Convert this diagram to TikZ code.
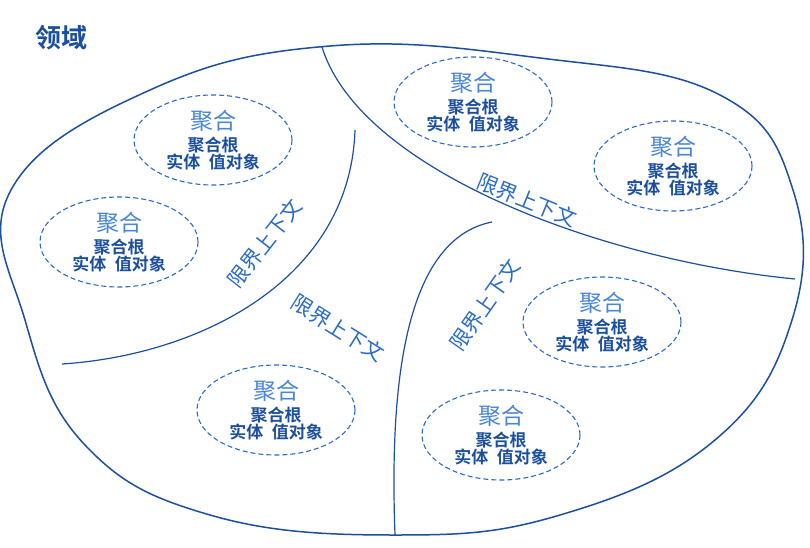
\documentclass[tikz,border=0pt]{standalone}
\usepackage{fontspec}
\setmainfont{Noto Sans CJK SC}
\newfontfamily\cjkb{Noto Sans CJK SC Bold}
\definecolor{dk}{HTML}{1B4F9E}
\definecolor{md}{HTML}{2A6BC8}
\definecolor{lt}{HTML}{4A86D8}
\usetikzlibrary{shapes.geometric}
\tikzset{agg/.style={draw=md,dash pattern=on 5pt off 3pt,line width=1.1pt,ellipse,minimum width=158pt,minimum height=90pt,align=center,inner sep=0pt},
bline/.style={draw=dk,line width=1.2pt},
bc/.style={text=md,font=\fontsize{21}{21}\selectfont}}
\newcommand{\aggtext}{{\color{lt}\fontsize{23}{26}\selectfont 聚合}\\[4pt]{\color{dk}\cjkb\fontsize{17}{24}\selectfont 聚合根}\\[0pt]{\color{dk}\cjkb\fontsize{17}{24}\selectfont 实体\enspace 值对象}}
\begin{document}
\begin{tikzpicture}[x=1pt,y=-1pt]
\useasboundingbox (0,0) rectangle (810,548);
\node[anchor=west,text=dk,font=\cjkb\fontsize{26}{26}\selectfont] (t) at (32,38) {领域};
\draw[bline,line width=1.5pt] plot[smooth cycle,tension=0.7] coordinates{(330,46) (540,58) (720,95) (793,190) (792,320) (715,440) (560,515) (395,535) (210,515) (85,445) (25,320) (11,190) (150,90)};
\coordinate (a1) at (322,47); \coordinate (a2) at (795,279);
\draw[bline] (a1) .. controls (360,170) and (600,260) .. (a2);
\coordinate (b1) at (355,130); \coordinate (b2) at (62,364);
\draw[bline] (b1) .. controls (350,280) and (200,355) .. (b2);
\coordinate (c1) at (492,222); \coordinate (c2) at (395,535);
\draw[bline] (c1) .. controls (400,240) and (390,400) .. (c2);
\node[bc,rotate=-22] (l1) at (527,200) {限界上下文};
\node[bc,rotate=52] (l2) at (265,243) {限界上下文};
\node[bc,rotate=-32] (l3) at (338,328) {限界上下文};
\node[bc,rotate=55] (l4) at (485,305) {限界上下文};
\node[agg] (g1) at (213,140) {\aggtext};
\node[agg] (g2) at (119,242) {\aggtext};
\node[agg] (g3) at (473,102) {\aggtext};
\node[agg] (g4) at (673,166) {\aggtext};
\node[agg] (g5) at (602,322) {\aggtext};
\node[agg] (g6) at (501,435) {\aggtext};
\node[agg] (g7) at (276,410) {\aggtext};
\end{tikzpicture}
\end{document}
